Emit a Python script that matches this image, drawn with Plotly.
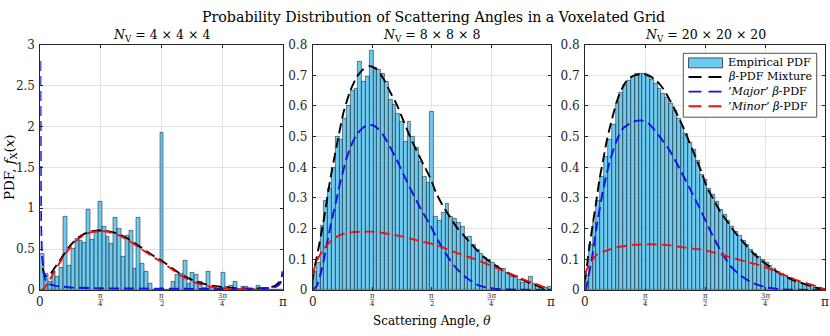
import math

import plotly.graph_objects as go

PI = math.pi
BIN_WIDTH = 0.05
SERIF = "DejaVu Serif, serif"
INK = "#262626"

# histogram heights, bins of 0.05 rad starting at 0
left_counts = [
    0.445, 0.20, 0.10, 0.23, 0.16, 0.27, 0.90, 0.30, 0.51, 0.63,
    0.60, 0.58, 0.98, 0.62, 0.70, 1.08, 0.78, 0.65, 0.57, 0.88,
    0.75, 0.41, 0.66, 0.73, 0.26, 0.89, 0.32, 0.23, 0.08, 0.0,
    0.0, 1.93, 0.0, 0.0, 0.10, 0.19, 0.20, 0.36, 0.08, 0.21,
    0.19, 0.10, 0.03, 0.23, 0.04, 0.0, 0.0, 0.21, 0.04, 0.05,
    0.10, 0.0, 0.04, 0.04, 0.0, 0.0, 0.05, 0.0, 0.0, 0.0,
    0.0, 0.0, 0.0,
]
mid_counts = [
    0.06, 0.09, 0.21, 0.29, 0.33, 0.40, 0.50, 0.49, 0.56, 0.60,
    0.65, 0.655, 0.745, 0.68, 0.695, 0.78, 0.725, 0.72, 0.705, 0.68,
    0.62, 0.605, 0.575, 0.55, 0.483, 0.548, 0.50, 0.465, 0.42, 0.37,
    0.35, 0.58, 0.24, 0.225, 0.253, 0.28, 0.238, 0.232, 0.22, 0.208,
    0.17, 0.175, 0.147, 0.13, 0.12, 0.106, 0.10, 0.09, 0.078, 0.07,
    0.068, 0.058, 0.045, 0.046, 0.035, 0.025, 0.027, 0.043, 0.022, 0.015,
    0.01, 0.007, 0.01,
]
right_counts = [
    0.048, 0.147, 0.218, 0.29, 0.37, 0.436, 0.49, 0.54, 0.61, 0.645,
    0.67, 0.683, 0.697, 0.704, 0.706, 0.704, 0.697, 0.686, 0.673, 0.657,
    0.64, 0.626, 0.607, 0.584, 0.558, 0.532, 0.51, 0.482, 0.457, 0.423,
    0.376, 0.36, 0.33, 0.31, 0.287, 0.263, 0.245, 0.226, 0.208, 0.19,
    0.176, 0.161, 0.147, 0.133, 0.12, 0.109, 0.098, 0.088, 0.078, 0.07,
    0.061, 0.053, 0.047, 0.041, 0.034, 0.029, 0.025, 0.021, 0.017, 0.013,
    0.009, 0.006, 0.003,
]

# fitted curves, sampled by eye
left_mix_x = [0.03, 0.048, 0.078, 0.108, 0.143, 0.186, 0.229, 0.272, 0.316, 0.359,
              0.402, 0.488, 0.575, 0.661, 0.748, 0.834, 0.92, 1.007, 1.14, 1.31,
              1.487, 1.57, 1.66, 1.833, 2.005, 2.178, 2.35, 2.52, 2.70, 2.85,
              2.95, 3.04, 3.09, 3.12, 3.135, 3.1416]
left_mix_y = [0.27, 0.19, 0.17, 0.18, 0.21, 0.27, 0.33, 0.39, 0.46, 0.51,
              0.56, 0.64, 0.69, 0.72, 0.727, 0.727, 0.71, 0.69, 0.625, 0.515,
              0.405, 0.36, 0.30, 0.185, 0.105, 0.06, 0.037, 0.022, 0.017, 0.016,
              0.022, 0.05, 0.09, 0.14, 0.18, 0.23]
left_major_x = [0.0005, 0.004, 0.01, 0.02, 0.035, 0.05, 0.08, 0.12, 0.2, 0.4,
                0.8, 1.2, 1.6, 2.0, 2.4, 2.7, 2.9, 3.0, 3.06, 3.1,
                3.125, 3.137, 3.1416]
left_major_y = [2.8, 1.4, 0.8, 0.45, 0.26, 0.17, 0.10, 0.07, 0.05, 0.03,
                0.02, 0.016, 0.013, 0.012, 0.012, 0.013, 0.017, 0.025, 0.04, 0.07,
                0.11, 0.16, 0.22]
left_minor_x = [0.0, 0.03, 0.06, 0.1, 0.143, 0.229, 0.316, 0.402, 0.488, 0.575,
                0.661, 0.748, 0.834, 0.92, 1.007, 1.14, 1.31, 1.487, 1.57, 1.66,
                1.833, 2.005, 2.178, 2.35, 2.52, 2.70, 2.9, 3.1416]
left_minor_y = [0.0, 0.004, 0.03, 0.09, 0.16, 0.30, 0.43, 0.535, 0.62, 0.675,
                0.708, 0.72, 0.718, 0.70, 0.675, 0.61, 0.50, 0.39, 0.345, 0.285,
                0.17, 0.09, 0.045, 0.023, 0.012, 0.005, 0.001, 0.0]

mid_mix_x = [0.0, 0.02, 0.052, 0.14, 0.228, 0.316, 0.404, 0.492, 0.58, 0.668,
             0.756, 0.844, 0.932, 1.02, 1.108, 1.196, 1.284, 1.372, 1.46, 1.548,
             1.636, 1.724, 1.812, 1.90, 1.988, 2.076, 2.164, 2.252, 2.34, 2.428,
             2.516, 2.604, 2.692, 2.78, 2.868, 2.956, 3.04, 3.1416]
mid_mix_y = [0.03, 0.07, 0.105, 0.22, 0.355, 0.47, 0.576, 0.647, 0.694, 0.72,
             0.73, 0.72, 0.69, 0.647, 0.605, 0.553, 0.50, 0.454, 0.41, 0.367,
             0.313, 0.272, 0.238, 0.205, 0.18, 0.155, 0.131, 0.109, 0.092, 0.077,
             0.063, 0.052, 0.042, 0.032, 0.022, 0.015, 0.006, 0.0]
mid_major_x = [0.0, 0.052, 0.096, 0.14, 0.184, 0.228, 0.272, 0.316, 0.36, 0.404,
               0.448, 0.492, 0.536, 0.58, 0.624, 0.668, 0.712, 0.778, 0.844, 0.932,
               1.02, 1.108, 1.196, 1.284, 1.372, 1.46, 1.548, 1.636, 1.724, 1.812,
               1.9, 2.03, 2.2, 2.4, 2.7, 3.1416]
mid_major_y = [0.0, 0.012, 0.045, 0.09, 0.145, 0.20, 0.25, 0.297, 0.347, 0.39,
               0.43, 0.46, 0.487, 0.506, 0.52, 0.53, 0.536, 0.538, 0.53, 0.505,
               0.467, 0.425, 0.378, 0.333, 0.29, 0.25, 0.213, 0.17, 0.132, 0.098,
               0.07, 0.04, 0.014, 0.004, 0.001, 0.0]
mid_minor_x = [0.0, 0.005, 0.016, 0.052, 0.14, 0.228, 0.316, 0.404, 0.536, 0.668,
               0.8, 0.932, 1.108, 1.284, 1.46, 1.548, 1.68, 1.90, 2.12, 2.34,
               2.56, 2.78, 2.956, 3.1416]
mid_minor_y = [0.0, 0.03, 0.064, 0.095, 0.131, 0.157, 0.173, 0.183, 0.189, 0.19,
               0.19, 0.186, 0.178, 0.168, 0.157, 0.152, 0.142, 0.121, 0.102, 0.081,
               0.058, 0.035, 0.019, 0.0]

right_mix_x = [0.0, 0.01, 0.061, 0.105, 0.148, 0.192, 0.235, 0.279, 0.322, 0.366,
               0.41, 0.453, 0.497, 0.54, 0.627, 0.758, 0.845, 0.932, 1.02, 1.107,
               1.194, 1.281, 1.368, 1.455, 1.53, 1.593, 1.68, 1.767, 1.855, 1.942,
               2.029, 2.117, 2.204, 2.291, 2.378, 2.465, 2.553, 2.64, 2.727, 2.814,
               2.90, 2.99, 3.076, 3.1416]
right_mix_y = [0.03, 0.05, 0.147, 0.22, 0.29, 0.365, 0.42, 0.48, 0.527, 0.57,
               0.61, 0.64, 0.663, 0.68, 0.698, 0.705, 0.698, 0.683, 0.657, 0.62,
               0.578, 0.532, 0.48, 0.427, 0.38, 0.335, 0.296, 0.256, 0.225, 0.194,
               0.167, 0.142, 0.119, 0.10, 0.082, 0.067, 0.053, 0.042, 0.031, 0.024,
               0.017, 0.010, 0.004, 0.0]
right_major_x = [0.0, 0.0087, 0.061, 0.105, 0.148, 0.235, 0.322, 0.41, 0.497, 0.627,
                 0.736, 0.845, 0.976, 1.107, 1.238, 1.368, 1.499, 1.636, 1.767, 1.90,
                 2.03, 2.2, 2.38, 2.6, 3.1416]
right_major_y = [0.0, 0.0, 0.064, 0.126, 0.20, 0.324, 0.418, 0.485, 0.527, 0.548,
                 0.553, 0.54, 0.50, 0.455, 0.395, 0.332, 0.267, 0.194, 0.131, 0.079,
                 0.048, 0.022, 0.008, 0.002, 0.0]
right_minor_x = [0.0, 0.004, 0.02, 0.061, 0.148, 0.3, 0.41, 0.627, 0.845, 1.063,
                 1.281, 1.551, 1.615, 1.855, 2.095, 2.335, 2.575, 2.79, 3.03, 3.1416]
right_minor_y = [0.0, 0.04, 0.065, 0.084, 0.114, 0.13, 0.139, 0.147, 0.149, 0.147,
                 0.139, 0.131, 0.127, 0.11, 0.093, 0.077, 0.052, 0.03, 0.012, 0.0]

panel_titles = ["<i>N</i><sub>V</sub> = 4 × 4 × 4",
                "<i>N</i><sub>V</sub> = 8 × 8 × 8",
                "<i>N</i><sub>V</sub> = 20 × 20 × 20"]
left_yticks = [0, 0.5, 1, 1.5, 2, 2.5, 3]
left_ylabels = ["0", "0.5", "1", "1.5", "2", "2.5", "3"]
mid_yticks = [0, 0.1, 0.2, 0.3, 0.4, 0.5, 0.6, 0.7, 0.8]
mid_ylabels = ["0", "0.1", "0.2", "0.3", "0.4", "0.5", "0.6", "0.7", "0.8"]
x_whole = [(0, "0"), (PI, "π")]
x_fracs = [(PI / 4, "π", "4"), (PI / 2, "π", "2"), (3 * PI / 4, "3π", "4")]
legend_names = ["Empirical PDF", "<i>β</i>-PDF Mixture",
                "’<i>Major</i>’ <i>β</i>-PDF", "’<i>Minor</i>’ <i>β</i>-PDF"]

BAR_FILL = "rgba(77,190,238,0.82)"
BAR_EDGE = "rgba(20,20,20,0.85)"
LINE_COLORS = ["black", "#1010F0", "#F01010"]
DASH = "10px,5px"

W, H = 830, 336
boxes = [(40.3, 282.7), (312.7, 550.7), (585.0, 825.3)]
top_px, bot_px = 39.3, 295.3


def px(x, y):
    return x / W, 1 - y / H


panels = [
    (left_counts, left_mix_x, left_mix_y, left_major_x, left_major_y,
     left_minor_x, left_minor_y, 3.0, left_yticks, left_ylabels),
    (mid_counts, mid_mix_x, mid_mix_y, mid_major_x, mid_major_y,
     mid_minor_x, mid_minor_y, 0.8, mid_yticks, mid_ylabels),
    (right_counts, right_mix_x, right_mix_y, right_major_x, right_major_y,
     right_minor_x, right_minor_y, 0.8, mid_yticks, mid_ylabels),
]

fig = go.Figure()
annotations = []
shapes = []
layout_axes = {}
tick_font = dict(family=SERIF, size=12, color=INK)

for i, (counts, mx, my, ax_, ay, nx, ny, ymax, ytv, ytt) in enumerate(panels):
    n = "" if i == 0 else str(i + 1)
    xr, yr = f"x{n}", f"y{n}"
    centers = [BIN_WIDTH * (k + 0.5) for k in range(len(counts))]
    fig.add_trace(go.Bar(
        x=centers, y=counts, width=BIN_WIDTH, xaxis=xr, yaxis=yr,
        marker=dict(color=BAR_FILL, line=dict(color=BAR_EDGE, width=0.6)),
        name=legend_names[0], showlegend=False,
    ))
    shape_kind = "linear" if i == 0 else "spline"
    for (cx, cy), color, name, kind in zip(
        [(mx, my), (ax_, ay), (nx, ny)], LINE_COLORS, legend_names[1:],
        [shape_kind, shape_kind, "spline"],
    ):
        fig.add_trace(go.Scatter(
            x=cx, y=cy, xaxis=xr, yaxis=yr, mode="lines", name=name,
            line=dict(color=color, width=1.9, dash=DASH, shape=kind, smoothing=0.6),
            showlegend=False,
        ))

    x0, x1 = boxes[i]
    axis_common = dict(
        showgrid=True, gridcolor="#e3e3e3", gridwidth=1, zeroline=False,
        showline=True, linecolor=INK, linewidth=0.8, mirror="ticks",
        ticks="inside", ticklen=3, tickcolor=INK, tickfont=tick_font,
    )
    layout_axes[f"xaxis{n}"] = dict(
        domain=[x0 / W, x1 / W], anchor=yr, range=[0, PI],
        tickvals=[0, PI / 4, PI / 2, 3 * PI / 4, PI], showticklabels=False,
        **axis_common,
    )
    layout_axes[f"yaxis{n}"] = dict(
        domain=[1 - bot_px / H, 1 - top_px / H], anchor=xr, range=[0, ymax],
        tickvals=ytv, ticktext=ytt, ticklabelstandoff=2, **axis_common,
    )

    annotations.append(dict(
        text=panel_titles[i], x=(x0 + x1) / 2 / W, y=1 - 29.5 / H,
        xref="paper", yref="paper", showarrow=False, xanchor="center", yanchor="middle",
        font=dict(family=SERIF, size=12.5, color="black"),
    ))
    for val, label in x_whole:
        annotations.append(dict(
            text=label, x=val, xref=xr, y=1 - 307.5 / H, yref="paper", showarrow=False,
            xanchor="center", yanchor="middle", font=tick_font,
        ))
    for val, num, den in x_fracs:
        for part, ypx in ((num, 301.6), (den, 309.4)):
            annotations.append(dict(
                text=part, x=val, xref=xr, y=1 - ypx / H, yref="paper", showarrow=False,
                xanchor="center", yanchor="middle", font=dict(family=SERIF, size=7, color=INK),
            ))
        half = (3.6 if len(num) > 1 else 2.4) * PI / (x1 - x0)
        shapes.append(dict(
            type="line", xref=xr, yref="paper", x0=val - half, x1=val + half,
            y0=1 - 305.4 / H, y1=1 - 305.4 / H, line=dict(color=INK, width=0.6),
        ))

# legend box drawn by hand inside the right panel
lx0, lx1, ly0, ly1 = 683.3, 816.7, 48.3, 115.0
shapes.append(dict(type="rect", xref="paper", yref="paper", layer="above",
                   x0=px(lx0, 0)[0], x1=px(lx1, 0)[0], y0=px(0, ly1)[1], y1=px(0, ly0)[1],
                   fillcolor="white", line=dict(color=INK, width=0.8)))
row_y = [58.3, 73.0, 88.3, 103.6]
sw0, sw1, text_x = 688.5, 722.5, 726.0
shapes.append(dict(type="rect", xref="paper", yref="paper", layer="above",
                   x0=px(sw0, 0)[0], x1=px(sw1, 0)[0],
                   y0=px(0, row_y[0] + 5.2)[1], y1=px(0, row_y[0] - 5.2)[1],
                   fillcolor=BAR_FILL, line=dict(color=BAR_EDGE, width=0.8)))
for ry, color in zip(row_y[1:], LINE_COLORS):
    shapes.append(dict(type="line", xref="paper", yref="paper", layer="above",
                       x0=px(sw0, 0)[0], x1=px(sw1, 0)[0], y0=px(0, ry)[1], y1=px(0, ry)[1],
                       line=dict(color=color, width=1.9, dash="13px,7px")))
for ry, name in zip(row_y, legend_names):
    annotations.append(dict(
        text=name, x=px(text_x, 0)[0], y=px(0, ry)[1], xref="paper", yref="paper",
        showarrow=False, xanchor="left", yanchor="middle",
        font=dict(family=SERIF, size=11.2, color="black"),
    ))

annotations.append(dict(
    text="Probability Distribution of Scattering Angles in a Voxelated Grid",
    x=433 / W, y=1 - 10 / H, xref="paper", yref="paper", showarrow=False,
    xanchor="center", yanchor="middle", font=dict(family=SERIF, size=14.2, color="black"),
))
annotations.append(dict(
    text="Scattering Angle, <i>θ</i>", x=431.7 / W, y=1 - 327.5 / H, xref="paper", yref="paper",
    showarrow=False, xanchor="center", yanchor="middle",
    font=dict(family=SERIF, size=12, color="black"),
))
annotations.append(dict(
    text="PDF, <i>f</i><sub>X</sub>(<i>x</i>)", x=10 / W, y=1 - 167 / H, xref="paper", yref="paper",
    showarrow=False, textangle=-90, xanchor="center", yanchor="middle",
    font=dict(family=SERIF, size=13.5, color="black"),
))

fig.update_layout(
    width=W, height=H, margin=dict(l=0, r=0, t=0, b=0),
    paper_bgcolor="white", plot_bgcolor="white",
    bargap=0, barmode="overlay", showlegend=False,
    annotations=annotations, shapes=shapes,
    **layout_axes,
)

# the page body has a default 8px margin; drop it so the figure sits at the corner
fig.write_html(
    "out.html",
    config={"displayModeBar": False},
    post_script="document.body.style.margin='0';document.body.style.overflow='hidden';",
)
